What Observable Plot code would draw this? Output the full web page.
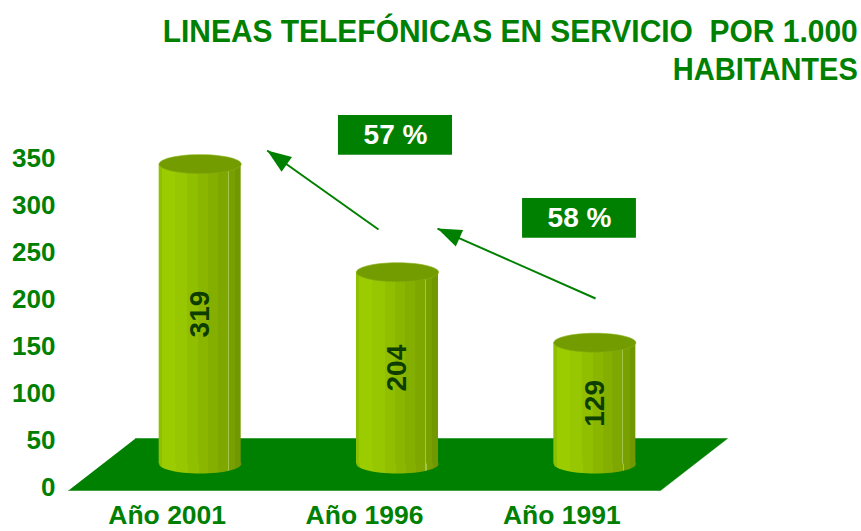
<!DOCTYPE html>
<html><head><meta charset="utf-8">
<script src="https://cdn.jsdelivr.net/npm/d3@7"></script>
<script src="https://cdn.jsdelivr.net/npm/@observablehq/plot@0.6"></script>
<style>
body{margin:0;background:#fff;width:861px;height:531px;overflow:hidden;font-family:"Liberation Sans",Arial,sans-serif}
#title{position:relative;height:95px;}
#title .line{position:absolute;right:3px;font-size:32px;line-height:32px;font-weight:bold;color:#008000;white-space:pre;transform-origin:right center}
#chart svg{display:block;overflow:visible}
</style></head><body>
<div id="title"><div class="line" id="t1" style="top:14.6px">LINEAS TELEFÓNICAS EN SERVICIO  POR 1.000</div><div class="line" id="t2" style="top:52.9px">HABITANTES</div></div>
<div id="chart"></div>
<script>
// ---- data ----
const categories = ["Año 2001", "Año 1996", "Año 1991"];
const values = [319, 204, 129];
const yTicks = [0, 50, 100, 150, 200, 250, 300, 350];
const growthLabels = ["57 %", "58 %"];
const growthFrom = ["Año 1996", "Año 1991"];
const growthTo = ["Año 2001", "Año 1996"];

// ---- title fit ----
[["t1", 695], ["t2", 185]].forEach(([id, target]) => {
  const el = document.getElementById(id);
  const w = el.getBoundingClientRect().width;
  el.style.transform = `scaleX(${target / w})`;
});

// ---- layout ----
const W = 861, H = 436;
const mL = 68, mR = 201, mT = 63.5, mB = 43.5;
const xDomain = [-0.5, categories.length - 0.5];
const yDomain = [0, 350];
const xs = Plot.scale({x: {type: "linear", domain: xDomain, range: [mL, W - mR]}});
const ys = Plot.scale({y: {type: "linear", domain: yDomain, range: [H - mB, mT]}});
const xUnit = xs.apply(1) - xs.apply(0);
const yUnit = ys.apply(0) - ys.apply(1);
const depthPx = [67, 52];      // floor depth in px (right, up)
const cylOff = [33, -24];      // cylinder offset from front
const cylRx = 41, cylRy = 9.5;
const hw = cylRx / xUnit;

const data = categories.map((c, i) => ({category: c, index: i, value: values[i]}));
const growth = growthLabels.map((l, i) => ({label: l, from: growthFrom[i], to: growthTo[i]}));
const arrowLayout = [
  {tail: [1.071, 275], tip: [0.507, 359]},
  {tail: [2.171, 201.6], tip: [1.370, 276]}
];
const boxLayout = [
  {x1: 0.868, x2: 1.446, y1: 354, y2: 396.3},
  {x1: 1.801, x2: 2.378, y1: 265.7, y2: 308}
];

const floorPts = [
  {x: xDomain[0], y: 0},
  {x: xDomain[1], y: 0},
  {x: xDomain[1] + depthPx[0] / xUnit, y: depthPx[1] / yUnit},
  {x: xDomain[0] + depthPx[0] / xUnit, y: depthPx[1] / yUnit}
];

function ellipseSymbol(rx, ry) {
  return {draw(ctx) {
    const n = 60;
    ctx.moveTo(rx, 0);
    for (let k = 1; k < n; k++) {
      const t = 2 * Math.PI * k / n;
      ctx.lineTo(rx * Math.cos(t), ry * Math.sin(t));
    }
    ctx.closePath();
  }};
}
function headSymbol(theta, len, half) {
  const c = Math.cos(theta), s = Math.sin(theta);
  return {draw(ctx) {
    const pts = [[0, 0], [-half, len], [half, len]].map(([x, y]) => [x * c - y * s, x * s + y * c]);
    ctx.moveTo(pts[0][0], pts[0][1]);
    ctx.lineTo(pts[1][0], pts[1][1]);
    ctx.lineTo(pts[2][0], pts[2][1]);
    ctx.closePath();
  }};
}
const heads = arrowLayout.map((a, i) => {
  const dxp = xs.apply(a.tip[0]) - xs.apply(a.tail[0]);
  const dyp = ys.apply(a.tip[1]) - ys.apply(a.tail[1]);
  const theta = Math.atan2(dxp, -dyp);
  return Plot.dot([growth[i]], {x: () => a.tip[0], y: () => a.tip[1], symbol: headSymbol(theta, 24, 9), fill: "#008000", stroke: "none"});
});

const green = "#008000";
const svg = Plot.plot({
  width: W, height: H,
  marginLeft: mL, marginRight: mR, marginTop: mT, marginBottom: mB,
  x: {type: "linear", domain: xDomain},
  y: {type: "linear", domain: yDomain},
  style: {fontFamily: "'Liberation Sans', Arial, sans-serif", background: "white", overflow: "visible"},
  marks: [
    Plot.line(floorPts, {x: "x", y: "y", fill: green, stroke: green, strokeWidth: 0.5, dy: 2.5}),
    Plot.axisY({ticks: yTicks, tickSize: 0, tickPadding: 13, fontSize: 26, fontWeight: "bold", fill: green, label: null}),
    Plot.axisX({ticks: data.map(d => d.index), tickFormat: i => categories[i], tickSize: 0, tickPadding: 17, fontSize: 26.5, fontWeight: "bold", fill: green, label: null}),
    Plot.dot(data, {x: "index", y: () => 0, dx: cylOff[0], dy: cylOff[1], symbol: ellipseSymbol(cylRx, cylRy), fill: "url(#cylGrad)", stroke: "none"}),
    Plot.rect(data, {x1: d => d.index - hw, x2: d => d.index + hw, y1: () => 0, y2: "value", dx: cylOff[0], dy: cylOff[1], fill: "url(#cylGrad)"}),
    Plot.dot(data, {x: "index", y: "value", dx: cylOff[0], dy: cylOff[1], symbol: ellipseSymbol(cylRx, cylRy), fill: "#739C00", stroke: "#86AE10", strokeWidth: 0.6}),
    Plot.text(data, {x: "index", y: d => d.value / 2, text: d => String(d.value), rotate: -90, dx: cylOff[0], dy: cylOff[1], fontSize: 28, fontWeight: "bold", fill: "#0D3D00"}),
    Plot.link(growth, {x1: (d, i) => arrowLayout[i].tail[0], y1: (d, i) => arrowLayout[i].tail[1], x2: (d, i) => arrowLayout[i].tip[0], y2: (d, i) => arrowLayout[i].tip[1], stroke: green, strokeWidth: 2}),
    ...heads,
    Plot.rect(growth, {x1: (d, i) => boxLayout[i].x1, x2: (d, i) => boxLayout[i].x2, y1: (d, i) => boxLayout[i].y1, y2: (d, i) => boxLayout[i].y2, fill: green}),
    Plot.text(growth, {x: (d, i) => (boxLayout[i].x1 + boxLayout[i].x2) / 2, y: (d, i) => (boxLayout[i].y1 + boxLayout[i].y2) / 2, text: "label", fill: "white", fontSize: 28, fontWeight: "bold"})
  ]
});

// cylinder shading gradient
const defs = d3.select(svg).insert("defs", ":first-child");
const grad = defs.append("linearGradient").attr("id", "cylGrad").attr("x1", 0).attr("x2", 1).attr("y1", 0).attr("y2", 0);
const bands = [
  [0, 0.04, "#8FC000"], [0.04, 0.2, "#9ACC00"], [0.2, 0.35, "#96C700"], [0.35, 0.48, "#90BF00"],
  [0.48, 0.6, "#8AB600"], [0.6, 0.72, "#84AE00"], [0.72, 0.84, "#7EA700"], [0.84, 0.855, "#A5C54A"],
  [0.855, 0.93, "#78A000"], [0.93, 1, "#719800"]
];
bands.forEach(([a, b, c]) => {
  grad.append("stop").attr("offset", a).attr("stop-color", c);
  grad.append("stop").attr("offset", b).attr("stop-color", c);
});
document.getElementById("chart").appendChild(svg);
</script>
</body></html>
